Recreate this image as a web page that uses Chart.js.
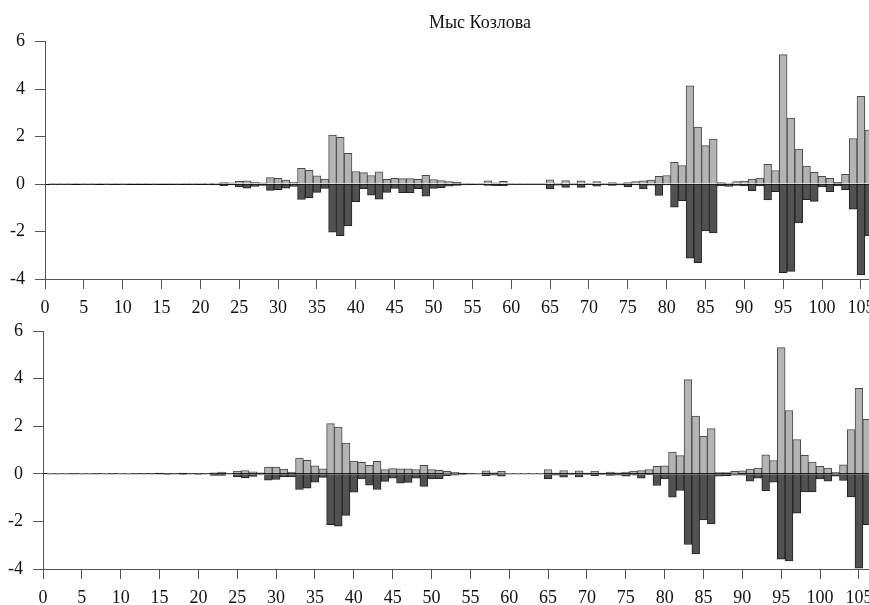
<!DOCTYPE html>
<html>
<head>
<meta charset="utf-8">
<script src="https://cdn.jsdelivr.net/npm/chart.js@4/dist/chart.umd.min.js"></script>
<style>
  html, body { margin: 0; padding: 0; background: #fff; overflow: hidden; width: 869px; height: 605px; }
  #top-panel { position: absolute; left: 0; top: 0; }
  #bottom-panel { position: absolute; left: -2px; top: 290px; }
</style>
</head>
<body>
<canvas id="top-panel" width="960" height="320"></canvas>
<canvas id="bottom-panel" width="960" height="320"></canvas>
<script>
// bar values for positions 1..106
const firstPosition = 1;

const topPositive = [
  0.01, 0.01, 0.02, 0.02, 0.02, 0.01, 0.02, 0.02, 0.02, 0.01,
  0.01, 0.02, 0.03, 0.02, 0.03, 0.02, 0.03, 0.03, 0.04, 0.03,
  0.04, 0.04, 0.06, 0.05, 0.11, 0.14, 0.08, 0.05, 0.27, 0.24,
  0.17, 0.08, 0.66, 0.58, 0.35, 0.21, 2.06, 1.97, 1.29, 0.53,
  0.48, 0.36, 0.51, 0.20, 0.24, 0.23, 0.23, 0.20, 0.37, 0.19,
  0.15, 0.10, 0.07, 0.04, 0.02, 0.01, 0.14, 0.05, 0.11, 0.01,
  0.01, 0.01, 0.01, 0.01, 0.18, 0.04, 0.15, 0.04, 0.13, 0.03,
  0.10, 0.03, 0.06, 0.04, 0.06, 0.10, 0.14, 0.17, 0.32, 0.36,
  0.91, 0.78, 4.14, 2.40, 1.62, 1.89, 0.06, 0.04, 0.10, 0.12,
  0.21, 0.25, 0.83, 0.57, 5.45, 2.78, 1.47, 0.76, 0.49, 0.32,
  0.24, 0.07, 0.41, 1.92, 3.69, 2.27
];
const topNegative = [
  -0.01, -0.01, -0.01, -0.02, -0.01, -0.01, -0.02, -0.01, -0.02, -0.01,
  -0.02, -0.02, -0.02, -0.03, -0.02, -0.02, -0.03, -0.02, -0.03, -0.02,
  -0.03, -0.04, -0.07, -0.04, -0.12, -0.17, -0.10, -0.06, -0.27, -0.24,
  -0.17, -0.10, -0.65, -0.58, -0.35, -0.18, -2.03, -2.18, -1.76, -0.74,
  -0.20, -0.47, -0.64, -0.35, -0.18, -0.36, -0.36, -0.19, -0.51, -0.18,
  -0.15, -0.09, -0.06, -0.04, -0.02, -0.01, -0.06, -0.07, -0.08, -0.01,
  -0.01, -0.01, -0.01, -0.01, -0.21, -0.05, -0.14, -0.04, -0.14, -0.03,
  -0.09, -0.03, -0.06, -0.04, -0.12, -0.04, -0.21, -0.05, -0.48, -0.04,
  -0.97, -0.70, -3.12, -3.31, -1.97, -2.06, -0.08, -0.10, -0.06, -0.08,
  -0.29, -0.08, -0.67, -0.32, -3.73, -3.68, -1.64, -0.66, -0.73, -0.12,
  -0.32, -0.08, -0.25, -1.06, -3.83, -2.17
];

const bottomPositive = [
  0.01, 0.01, 0.01, 0.02, 0.01, 0.01, 0.02, 0.01, 0.02, 0.01,
  0.01, 0.02, 0.02, 0.02, 0.03, 0.02, 0.02, 0.03, 0.02, 0.02,
  0.02, 0.04, 0.07, 0.02, 0.11, 0.14, 0.08, 0.04, 0.28, 0.28,
  0.20, 0.07, 0.66, 0.57, 0.33, 0.21, 2.11, 1.96, 1.29, 0.53,
  0.48, 0.36, 0.52, 0.18, 0.22, 0.21, 0.21, 0.18, 0.36, 0.18,
  0.15, 0.10, 0.06, 0.03, 0.02, 0.01, 0.13, 0.04, 0.10, 0.01,
  0.01, 0.01, 0.01, 0.01, 0.18, 0.03, 0.14, 0.03, 0.13, 0.03,
  0.11, 0.03, 0.07, 0.04, 0.07, 0.11, 0.14, 0.18, 0.31, 0.34,
  0.91, 0.77, 3.96, 2.42, 1.57, 1.90, 0.05, 0.05, 0.10, 0.12,
  0.20, 0.24, 0.80, 0.56, 5.30, 2.66, 1.44, 0.78, 0.49, 0.31,
  0.24, 0.06, 0.38, 1.86, 3.59, 2.29
];
const bottomNegative = [
  -0.01, -0.01, -0.02, -0.01, -0.01, -0.02, -0.01, -0.01, -0.02, -0.01,
  -0.02, -0.01, -0.02, -0.02, -0.02, -0.03, -0.02, -0.03, -0.02, -0.03,
  -0.02, -0.07, -0.07, -0.02, -0.13, -0.17, -0.11, -0.03, -0.27, -0.24,
  -0.13, -0.13, -0.66, -0.60, -0.35, -0.15, -2.14, -2.20, -1.75, -0.77,
  -0.22, -0.48, -0.66, -0.32, -0.18, -0.39, -0.36, -0.18, -0.53, -0.22,
  -0.20, -0.08, -0.06, -0.03, -0.02, -0.01, -0.08, -0.06, -0.10, -0.01,
  -0.01, -0.01, -0.01, -0.01, -0.22, -0.06, -0.14, -0.03, -0.13, -0.03,
  -0.08, -0.03, -0.07, -0.06, -0.10, -0.06, -0.18, -0.04, -0.49, -0.22,
  -0.98, -0.70, -2.97, -3.37, -1.94, -2.11, -0.10, -0.08, -0.06, -0.06,
  -0.31, -0.18, -0.71, -0.35, -3.59, -3.66, -1.65, -0.76, -0.76, -0.22,
  -0.31, -0.10, -0.28, -0.97, -3.96, -2.14
];

const xTickStep = 5;
const yTickStep = 2;
const chartTitle = "Мыс Козлова";

Chart.defaults.font.family = "'Liberation Serif', 'Times New Roman', serif";
Chart.defaults.font.size = 18;
Chart.defaults.color = "#111";

function toPoints(values) {
  return values.map((v, k) => ({ x: firstPosition + k, y: v }));
}

function barSet(values, fill, edge) {
  return {
    data: toPoints(values),
    backgroundColor: fill,
    borderColor: edge,
    borderWidth: 1,
    grouped: false,
    barPercentage: 1,
    categoryPercentage: 1,
  };
}

function panelOptions(title) {
  return {
    responsive: false,
    animation: false,
    events: [],
    layout: { padding: { top: title ? 0 : 41, right: 0, left: 0, bottom: 0 } },
    plugins: {
      legend: { display: false },
      tooltip: { enabled: false },
      title: {
        display: !!title,
        text: title,
        color: "#111",
        font: { size: 18, weight: "normal" },
        padding: { top: 12, bottom: 8 },
      },
    },
    scales: {
      x: {
        type: "linear",
        min: 0,
        max: 117.75,
        offset: false,
        afterBuildTicks: (s) => {
          s.ticks = s.ticks.filter((t) => t.value % xTickStep === 0);
        },
        afterFit: (s) => { s.height = 41; },
        grid: { offset: false, drawOnChartArea: false, tickLength: 10, color: "#555" },
        border: { color: "#555" },
        ticks: { stepSize: xTickStep, padding: 8, maxRotation: 0, autoSkip: false },
      },
      y: {
        min: -4,
        max: 6,
        afterFit: (s) => { s.width = 45; },
        grid: {
          color: (ctx) => (ctx.tick && ctx.tick.value === 0 ? "#000" : "rgba(0,0,0,0)"),
          tickColor: "#555",
          tickLength: 10,
        },
        border: { color: "#555" },
        ticks: { stepSize: yTickStep, padding: 10 },
      },
    },
  };
}

new Chart(document.getElementById("top-panel").getContext("2d"), {
  type: "bar",
  data: {
    datasets: [
      barSet(topPositive, "#b4b4b4", "#4a4a4a"),
      barSet(topNegative, "#515151", "#222"),
    ],
  },
  options: panelOptions(chartTitle),
});

new Chart(document.getElementById("bottom-panel").getContext("2d"), {
  type: "bar",
  data: {
    datasets: [
      barSet(bottomPositive, "#b4b4b4", "#4a4a4a"),
      barSet(bottomNegative, "#515151", "#222"),
    ],
  },
  options: panelOptions(""),
});
</script>
</body>
</html>
